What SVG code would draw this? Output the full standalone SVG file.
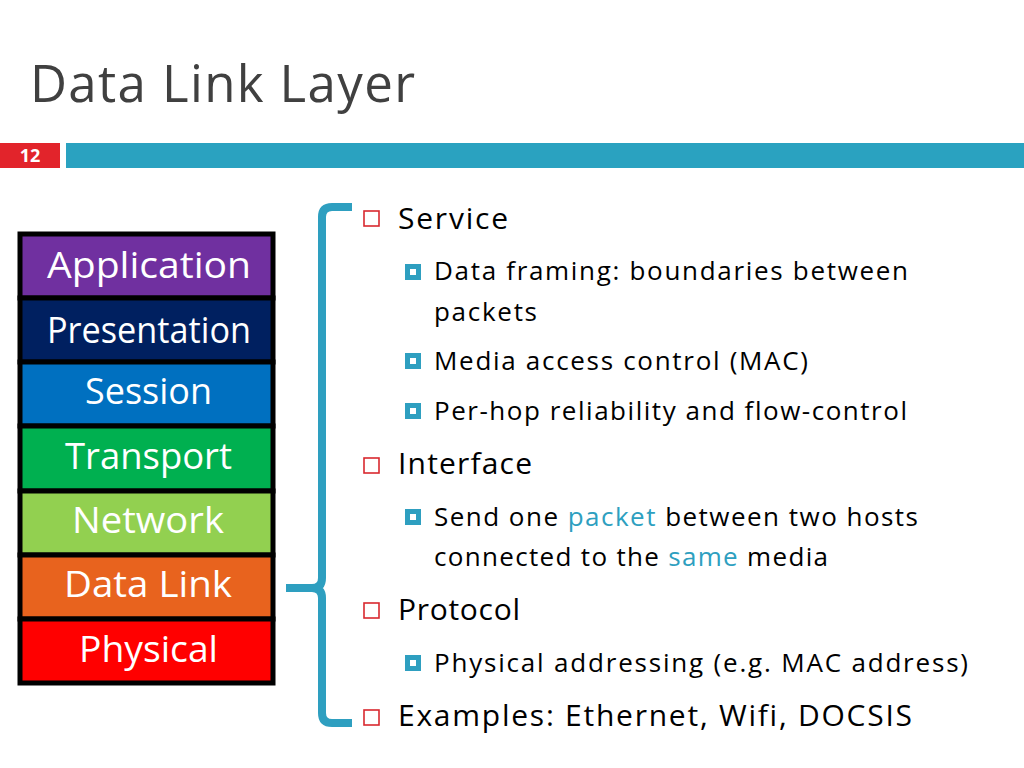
<svg xmlns="http://www.w3.org/2000/svg" width="1024" height="768" viewBox="0 0 1024 768">
<style>
text{font-family:"Open Sans","Lato",sans-serif;font-variant-ligatures:none}
.lay{stroke:#000;stroke-width:5}
.lt{fill:#fff;font-size:37px}
.l1{font-size:30px;fill:#000}
.l2{font-size:26px;fill:#000}
.hl{fill:#2E9FC0}
.rb{fill:#fff;stroke:#D9282F;stroke-width:1.6}
</style>
<defs>
<g id="bbul"><rect x="0" y="0" width="16" height="16" fill="#2E9FC0"/><rect x="5" y="5" width="6" height="6" fill="#fff"/></g>
<rect id="rbul" x="0" y="0" width="15" height="15" class="rb"/>
</defs>
<rect width="1024" height="768" fill="#fff"/>
<text x="30" y="102" textLength="385" lengthAdjust="spacing" style="font-size:51px;fill:#404040">Data Link Layer</text>
<g id="header-bar">
<rect x="0" y="143" width="60" height="25" fill="#E2242B"/>
<text x="30" y="162" style="font-size:18px;fill:#fff;font-weight:bold;text-anchor:middle">12</text>
<rect x="66" y="143" width="958" height="25" fill="#2AA2C0"/>
</g>
<g id="layers">
<g id="application"><rect x="20" y="234" width="253" height="64" fill="#7030A0" class="lay"/><text x="47" y="278" class="lt" textLength="204" lengthAdjust="spacingAndGlyphs">Application</text></g>
<g id="presentation"><rect x="20" y="298" width="253" height="64" fill="#002060" class="lay"/><text x="47" y="343" class="lt" textLength="204" lengthAdjust="spacingAndGlyphs">Presentation</text></g>
<g id="session"><rect x="20" y="362" width="253" height="64" fill="#0070C0" class="lay"/><text x="85" y="404" class="lt" textLength="127" lengthAdjust="spacingAndGlyphs">Session</text></g>
<g id="transport"><rect x="20" y="426" width="253" height="65" fill="#00B050" class="lay"/><text x="65" y="469" class="lt" textLength="167" lengthAdjust="spacingAndGlyphs">Transport</text></g>
<g id="network"><rect x="20" y="491" width="253" height="64" fill="#92D050" class="lay"/><text x="72" y="533" class="lt" textLength="152" lengthAdjust="spacingAndGlyphs">Network</text></g>
<g id="datalink"><rect x="20" y="555" width="253" height="64" fill="#E8631E" class="lay"/><text x="64" y="597" class="lt" textLength="168" lengthAdjust="spacingAndGlyphs">Data Link</text></g>
<g id="physical"><rect x="20" y="619" width="253" height="64" fill="#FF0000" class="lay"/><text x="79" y="662" class="lt" textLength="139" lengthAdjust="spacingAndGlyphs">Physical</text></g>
</g>
<g id="connectors">
<path d="M352 207 L332 207 Q322 207 322 217 L322 578 Q322 588 312 588 L286 588 M312 588 Q322 588 322 598 L322 713 Q322 723 332 723 L352 723" fill="none" stroke="#2E9FC0" stroke-width="8"/>
</g>
<g id="bullets">
<use href="#rbul" x="364" y="211"/>
<text x="398" y="229" class="l1" textLength="110" lengthAdjust="spacing">Service</text>
<use href="#bbul" x="405" y="264"/>
<text x="434" y="280" class="l2" textLength="474" lengthAdjust="spacing">Data framing: boundaries between</text>
<text x="434" y="321" class="l2" textLength="103" lengthAdjust="spacing">packets</text>
<use href="#bbul" x="405" y="353"/>
<text x="434" y="370" class="l2" textLength="374" lengthAdjust="spacing">Media access control (MAC)</text>
<use href="#bbul" x="405" y="403"/>
<text x="434" y="420" class="l2" textLength="473" lengthAdjust="spacing">Per-hop reliability and flow-control</text>
<use href="#rbul" x="364" y="458"/>
<text x="398" y="474" class="l1" textLength="134" lengthAdjust="spacing">Interface</text>
<use href="#bbul" x="405" y="509"/>
<text x="434" y="526" class="l2" textLength="484" lengthAdjust="spacing">Send one <tspan class="hl">packet</tspan> between two hosts</text>
<text x="434" y="566" class="l2" textLength="394" lengthAdjust="spacing">connected to the <tspan class="hl">same</tspan> media</text>
<use href="#rbul" x="364" y="603"/>
<text x="398" y="620" class="l1" textLength="122" lengthAdjust="spacing">Protocol</text>
<use href="#bbul" x="405" y="655"/>
<text x="434" y="672" class="l2" textLength="534" lengthAdjust="spacing">Physical addressing (e.g. MAC address)</text>
<use href="#rbul" x="364" y="710"/>
<text x="398" y="726" class="l1" textLength="514" lengthAdjust="spacing">Examples: Ethernet, Wifi, DOCSIS</text>
</g>
</svg>
